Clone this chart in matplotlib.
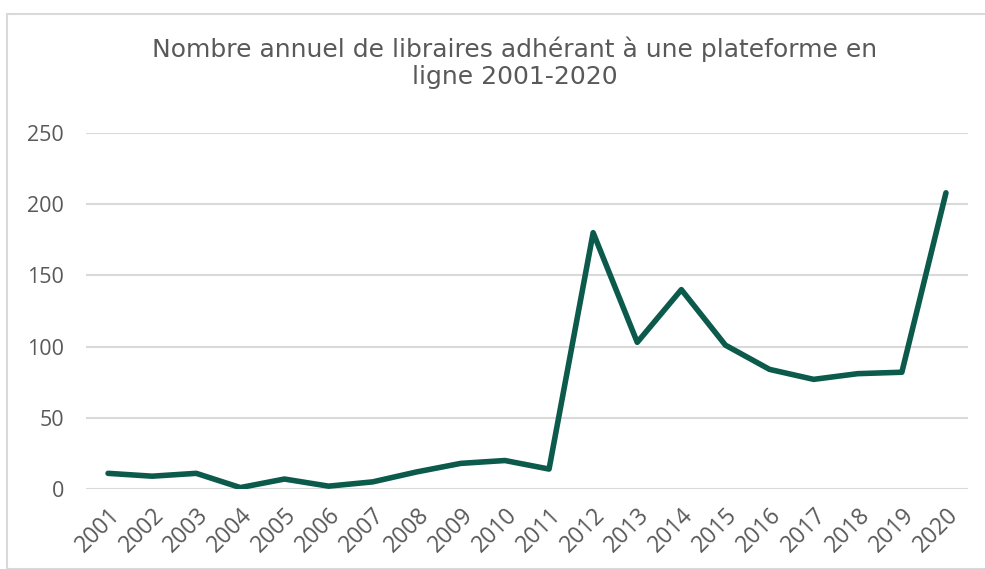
import matplotlib
matplotlib.use("Agg")
import matplotlib.pyplot as plt
from matplotlib.patches import Rectangle

years = [str(y) for y in range(2001, 2021)]
values = [11, 9, 11, 1, 7, 2, 5, 12, 18, 20, 14, 180, 103, 140, 101, 84, 77, 81, 82, 208]
yticks = [0, 50, 100, 150, 200, 250]
title_lines = ["Nombre annuel de libraires adhérant à une plateforme en", "ligne 2001-2020"]

plt.rcParams['font.family'] = ['Open Sans', 'DejaVu Sans']
W, H = 985, 569
fig = plt.figure(figsize=(W/100, H/100), dpi=100)
fig.patch.set_facecolor('white')

# chart frame (cropped)
fig.add_artist(Rectangle((7/W, 0), (W+40)/W, 1 - 14/H, transform=fig.transFigure,
                         fill=False, edgecolor='#d9d9d9', linewidth=1.5))

ax = fig.add_axes([86/W, 1 - 489/H, (968-86)/W, (489-133)/H])
x = list(range(len(years)))
ax.plot(x, values, color='#0b5a4b', linewidth=4.0, solid_joinstyle='round', solid_capstyle='round', zorder=3)
ax.set_xlim(-0.5, len(years) - 0.5)
ax.set_ylim(0, 250)
ax.set_yticks(yticks)
ax.set_xticks(x)
ax.set_xticklabels(years, rotation=45, ha='right', rotation_mode='anchor')
ax.tick_params(axis='y', length=0, labelsize=15.5, colors='#595959', pad=16)
ax.tick_params(axis='x', length=0, labelsize=16.5, colors='#595959', pad=10)
for s in ax.spines.values():
    s.set_visible(False)
ax.grid(axis='y', color='#d9d9d9', linewidth=1.5)
ax.set_axisbelow(True)

for line, yb in zip(title_lines, [57, 84]):
    fig.text(515/W, 1 - yb/H, line, ha='center', va='baseline', fontsize=18,
             color='#595959', family=['DejaVu Sans'])

fig.savefig('out.png', dpi=100)
